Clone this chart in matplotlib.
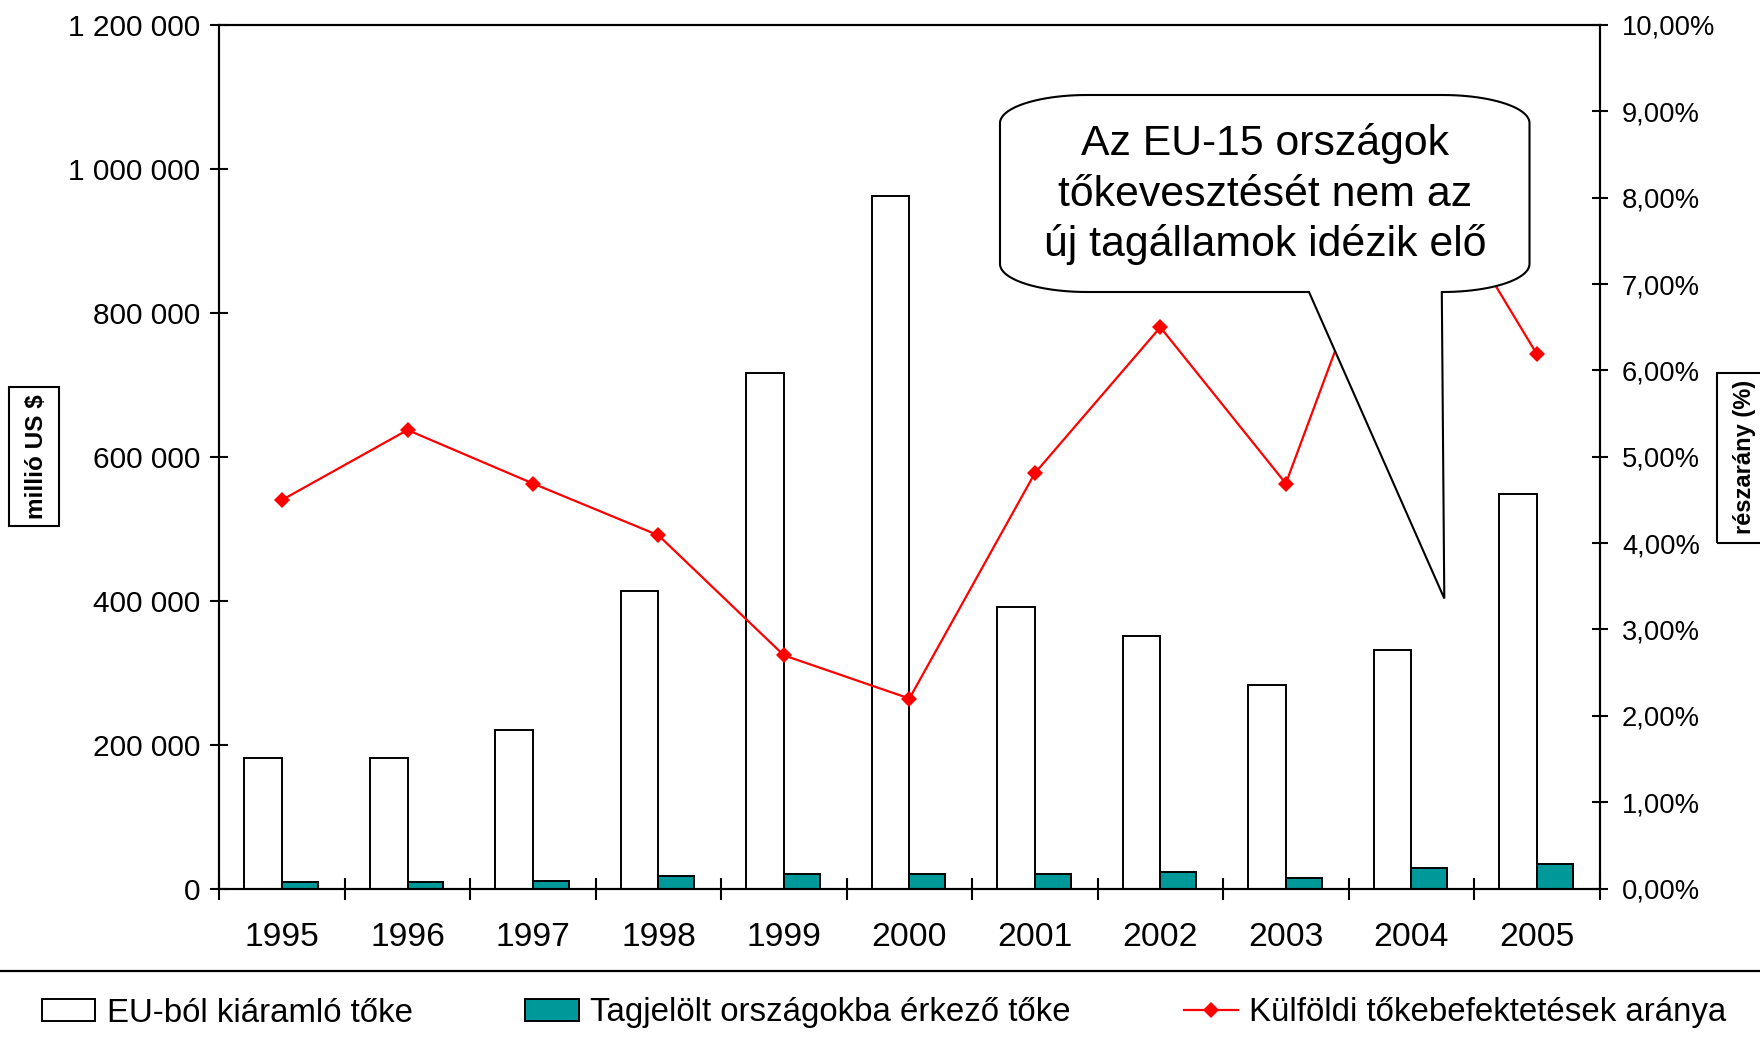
import matplotlib
matplotlib.use('Agg')
import matplotlib.pyplot as plt
import numpy as np
from matplotlib.patches import Rectangle, PathPatch, Patch
from matplotlib.path import Path
from matplotlib.lines import Line2D
from matplotlib.ticker import FuncFormatter, MultipleLocator

plt.rcParams['font.family'] = ['Liberation Sans', 'DejaVu Sans']

# ---- data ----
years = ['1995', '1996', '1997', '1998', '1999', '2000', '2001', '2002', '2003', '2004', '2005']
outflow = [182000, 182000, 220000, 414000, 717000, 963000, 391000, 351000, 283000, 331000, 548000]
inflow = [8400, 8400, 11000, 17500, 20300, 20300, 20300, 22700, 13900, 28200, 33800]
share = [4.50, 5.31, 4.69, 4.09, 2.70, 2.20, 4.81, 6.50, 4.69, 8.60, 6.19]

series_names = ['EU-ból kiáramló tőke', 'Tagjelölt országokba érkező tőke',
                'Külföldi tőkebefektetések aránya']
callout_lines = ['Az EU-15 országok', 'tőkevesztését nem az', 'új tagállamok idézik elő']
left_label = 'millió US $'
right_label = 'részarány (%)'

TEAL = '#009999'
W, H = 1760, 1049

fig = plt.figure(figsize=(W / 100, H / 100), dpi=100)
fig.patch.set_facecolor('white')


def F(px, py):
    return (px / W, 1 - py / H)


ax = fig.add_axes([219.3 / W, 1 - 888.5 / H, (1599.5 - 219.3) / W, (888.5 - 25) / H])
x = np.arange(len(years))
ax.bar(x, outflow, width=-0.30, align='edge', color='white', edgecolor='black',
       linewidth=1.4, zorder=2)
ax.bar(x, inflow, width=0.285, align='edge', color=TEAL, edgecolor='black',
       linewidth=1.4, zorder=2)
ax.set_xlim(-0.5, len(years) - 0.5)
ax.set_ylim(0, 1200000)
ax.yaxis.set_major_locator(MultipleLocator(200000))
ax.yaxis.set_major_formatter(FuncFormatter(lambda v, p: f"{int(round(v)):,}".replace(',', ' ')))
ax.set_xticks(x)
ax.set_xticklabels(years)
ax.set_xticks(np.arange(-0.5, len(years), 1), minor=True)
ax.tick_params(axis='x', which='major', length=0, pad=24, labelsize=24.2)
ax.tick_params(axis='x', which='minor', direction='inout', length=15.6, width=1.5)
ax.tick_params(axis='y', direction='inout', length=12.7, width=1.5, pad=7.3, labelsize=21.5)
for s in ax.spines.values():
    s.set_linewidth(1.5)

ax2 = ax.twinx()
ax2.plot(x, share, color='red', lw=1.6, marker='D', ms=8.5, mew=0, zorder=3)
ax2.set_ylim(0, 10)
ax2.yaxis.set_major_locator(MultipleLocator(1))
ax2.yaxis.set_major_formatter(FuncFormatter(lambda v, p: f"{v:.2f}%".replace('.', ',')))
ax2.tick_params(axis='y', direction='inout', length=11.3, width=1.5, pad=10.5, labelsize=19.7)
for s in ax2.spines.values():
    s.set_linewidth(1.5)

# ---- callout ----
L, R, T, B = 1000, 1529.5, 95, 292
rx, ry = 87, 28
verts = []


def arc(cx, cy, a0, a1, n=24):
    for t in np.linspace(np.radians(a0), np.radians(a1), n):
        verts.append(F(cx + rx * np.cos(t), cy + ry * np.sin(t)))


arc(R - rx, T + ry, -90, 0)
arc(R - rx, B - ry, 0, 90)
verts.append(F(1441.8, B))
verts.append(F(1444.3, 598.5))
verts.append(F(1309, B))
arc(L + rx, B - ry, 90, 180)
arc(L + rx, T + ry, 180, 270)
verts.append(verts[0])
codes = [Path.MOVETO] + [Path.LINETO] * (len(verts) - 2) + [Path.CLOSEPOLY]
callout = PathPatch(Path(verts, codes), transform=fig.transFigure, facecolor='white',
                    edgecolor='black', lw=1.5, zorder=5)
fig.add_artist(callout)
for line, yb in zip(callout_lines, [155, 205.5, 256]):
    fig.text(*F((L + R) / 2, yb), line, ha='center', va='baseline', fontsize=30.8, zorder=6)

# ---- axis title boxes ----
fig.add_artist(Rectangle(F(9, 526), 50 / W, 139.3 / H, transform=fig.transFigure,
                         fill=False, edgecolor='black', lw=1.5))
fig.text(*F(36.5, 456.3), left_label, rotation=90, ha='center', va='center',
         fontsize=17.5, fontweight='bold')
fig.add_artist(Rectangle(F(1717.3, 542.7), 60 / W, 169.4 / H, transform=fig.transFigure,
                         fill=False, edgecolor='black', lw=1.5))
fig.text(*F(1744, 457), right_label, rotation=90, ha='center', va='center',
         fontsize=17, fontweight='bold')

# ---- separator line ----
fig.add_artist(Line2D([0, 1], [1 - 970.5 / H] * 2, transform=fig.transFigure,
                      color='black', lw=1.6))

# ---- legend ----
h1 = Patch(facecolor='white', edgecolor='black', lw=1.4)
h2 = Patch(facecolor=TEAL, edgecolor='black', lw=1.4)
h3 = Line2D([], [], color='red', lw=1.6, marker='D', ms=8.5, mew=0)
for h, lab, xpx in [(h1, series_names[0], 41.5), (h2, series_names[1], 525),
                    (h3, series_names[2], 1184)]:
    fig.legend(handles=[h], labels=[lab], loc='center left',
               bbox_to_anchor=F(xpx, 1013), frameon=False, fontsize=23.8,
               handlelength=1.63, handleheight=0.62, handletextpad=0.34,
               borderpad=0, borderaxespad=0)

fig.savefig('out.png', dpi=100, facecolor='white')
